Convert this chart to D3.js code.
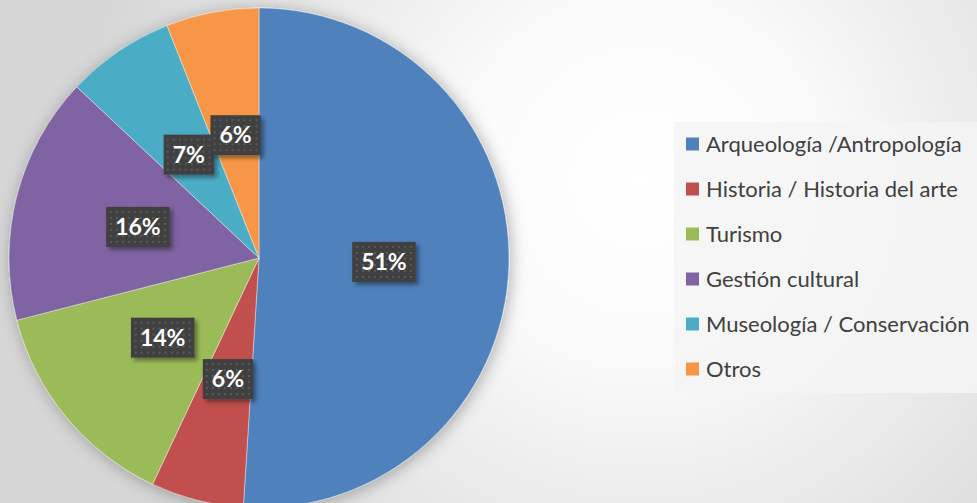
<!DOCTYPE html>
<html lang="es">
<head>
<meta charset="utf-8">
<title>Pie</title>
<style>
  html, body { margin: 0; padding: 0; overflow: hidden; }
  svg { display: block; }
</style>
</head>
<body>
<script src="https://d3js.org/d3.v7.min.js"></script>
<svg width="977" height="503"></svg>
<script>
// data
var categories = ["Arqueología /Antropología", "Historia / Historia del arte", "Turismo",
                  "Gestión cultural", "Museología / Conservación", "Otros"];
var values = [51, 6, 14, 16, 7, 6];
var colors = ["#4f81bd", "#c0504d", "#9bbb59", "#8064a2", "#4bacc6", "#f79646"];

var svg = d3.select("svg"),
    width = +svg.attr("width"),
    height = +svg.attr("height");

var defs = svg.append("defs");

// background gradient
var bg = defs.append("radialGradient").attr("id", "bg")
    .attr("gradientUnits", "userSpaceOnUse")
    .attr("cx", 640).attr("cy", 180).attr("r", 560);
bg.append("stop").attr("offset", "0%").attr("stop-color", "#ffffff");
bg.append("stop").attr("offset", "30%").attr("stop-color", "#fbfbfb");
bg.append("stop").attr("offset", "100%").attr("stop-color", "#d6d6d6");

svg.append("rect").attr("width", width).attr("height", height).attr("fill", "url(#bg)");

// shadows
var sh = defs.append("filter").attr("id", "pieShadow")
    .attr("x", "-20%").attr("y", "-20%").attr("width", "140%").attr("height", "140%");
sh.append("feDropShadow").attr("dx", 2).attr("dy", 2).attr("stdDeviation", 8)
    .attr("flood-color", "#000").attr("flood-opacity", 0.3);

var lsh = defs.append("filter").attr("id", "lblShadow")
    .attr("x", "-30%").attr("y", "-30%").attr("width", "160%").attr("height", "160%");
lsh.append("feDropShadow").attr("dx", 3).attr("dy", 3).attr("stdDeviation", 2)
    .attr("flood-color", "#000").attr("flood-opacity", 0.4);

// dotted pattern for label boxes
var pat = defs.append("pattern").attr("id", "dots")
    .attr("patternUnits", "userSpaceOnUse").attr("width", 6).attr("height", 6);
pat.append("rect").attr("width", 6).attr("height", 6).attr("fill", "#404040");
pat.append("rect").attr("x", 2).attr("y", 2).attr("width", 2).attr("height", 2).attr("fill", "#5a5a5a");

// pie
var cx = 259, cy = 258, radius = 250;
var g = svg.append("g").attr("transform", "translate(" + cx + "," + cy + ")");

var pie = d3.pie().sort(null);
var arc = d3.arc().innerRadius(0).outerRadius(radius);
var arcs = pie(values);

g.append("g").attr("filter", "url(#pieShadow)")
  .selectAll("path")
  .data(arcs)
  .enter()
  .append("path")
  .attr("d", arc)
  .attr("fill", function(d, i) { return colors[i]; })
  .attr("stroke", "rgba(255,255,255,0.5)")
  .attr("stroke-width", 0.8);

// data labels
var lbl = g.selectAll(".lbl")
  .data(arcs)
  .enter()
  .append("g")
  .attr("class", "lbl")
  .attr("transform", function(d) {
      var c = arc.centroid(d);
      return "translate(" + c[0] + "," + c[1] + ")";
  });

lbl.each(function(d) {
  var el = d3.select(this);
  var t = el.append("text")
      .attr("text-anchor", "middle")
      .attr("dy", "0.36em")
      .attr("font-family", "Lato, 'Open Sans', sans-serif")
      .attr("font-weight", "bold")
      .attr("font-size", 23)
      .attr("fill", "#fff")
      .text(d.data + "%");
  var w = t.node().getComputedTextLength() + 18;
  var h = 40;
  el.insert("rect", "text")
      .attr("x", -w / 2).attr("y", -h / 2)
      .attr("width", w).attr("height", h)
      .attr("fill", "url(#dots)")
      .attr("filter", "url(#lblShadow)");
});

// legend
var legend = svg.append("g");
legend.append("rect")
  .attr("x", 674).attr("y", 122)
  .attr("width", width - 674).attr("height", 271)
  .attr("fill", "#f4f4f4").attr("fill-opacity", 0.85);

var y = d3.scaleBand().domain(categories).range([122, 392]).paddingInner(0).paddingOuter(0);

var items = legend.selectAll(".item")
  .data(categories)
  .enter()
  .append("g")
  .attr("class", "item")
  .attr("transform", function(d) { return "translate(686," + (y(d) + y.bandwidth() / 2) + ")"; });

items.append("rect")
  .attr("x", 0).attr("y", -7)
  .attr("width", 13).attr("height", 13)
  .attr("fill", function(d, i) { return colors[i]; });

items.append("text")
  .attr("x", 20)
  .attr("dy", "0.35em")
  .attr("font-family", "Lato, 'Open Sans', sans-serif")
  .attr("font-size", 22)
  .attr("fill", "#404040")
  .text(function(d) { return d; });
</script>
</body>
</html>
